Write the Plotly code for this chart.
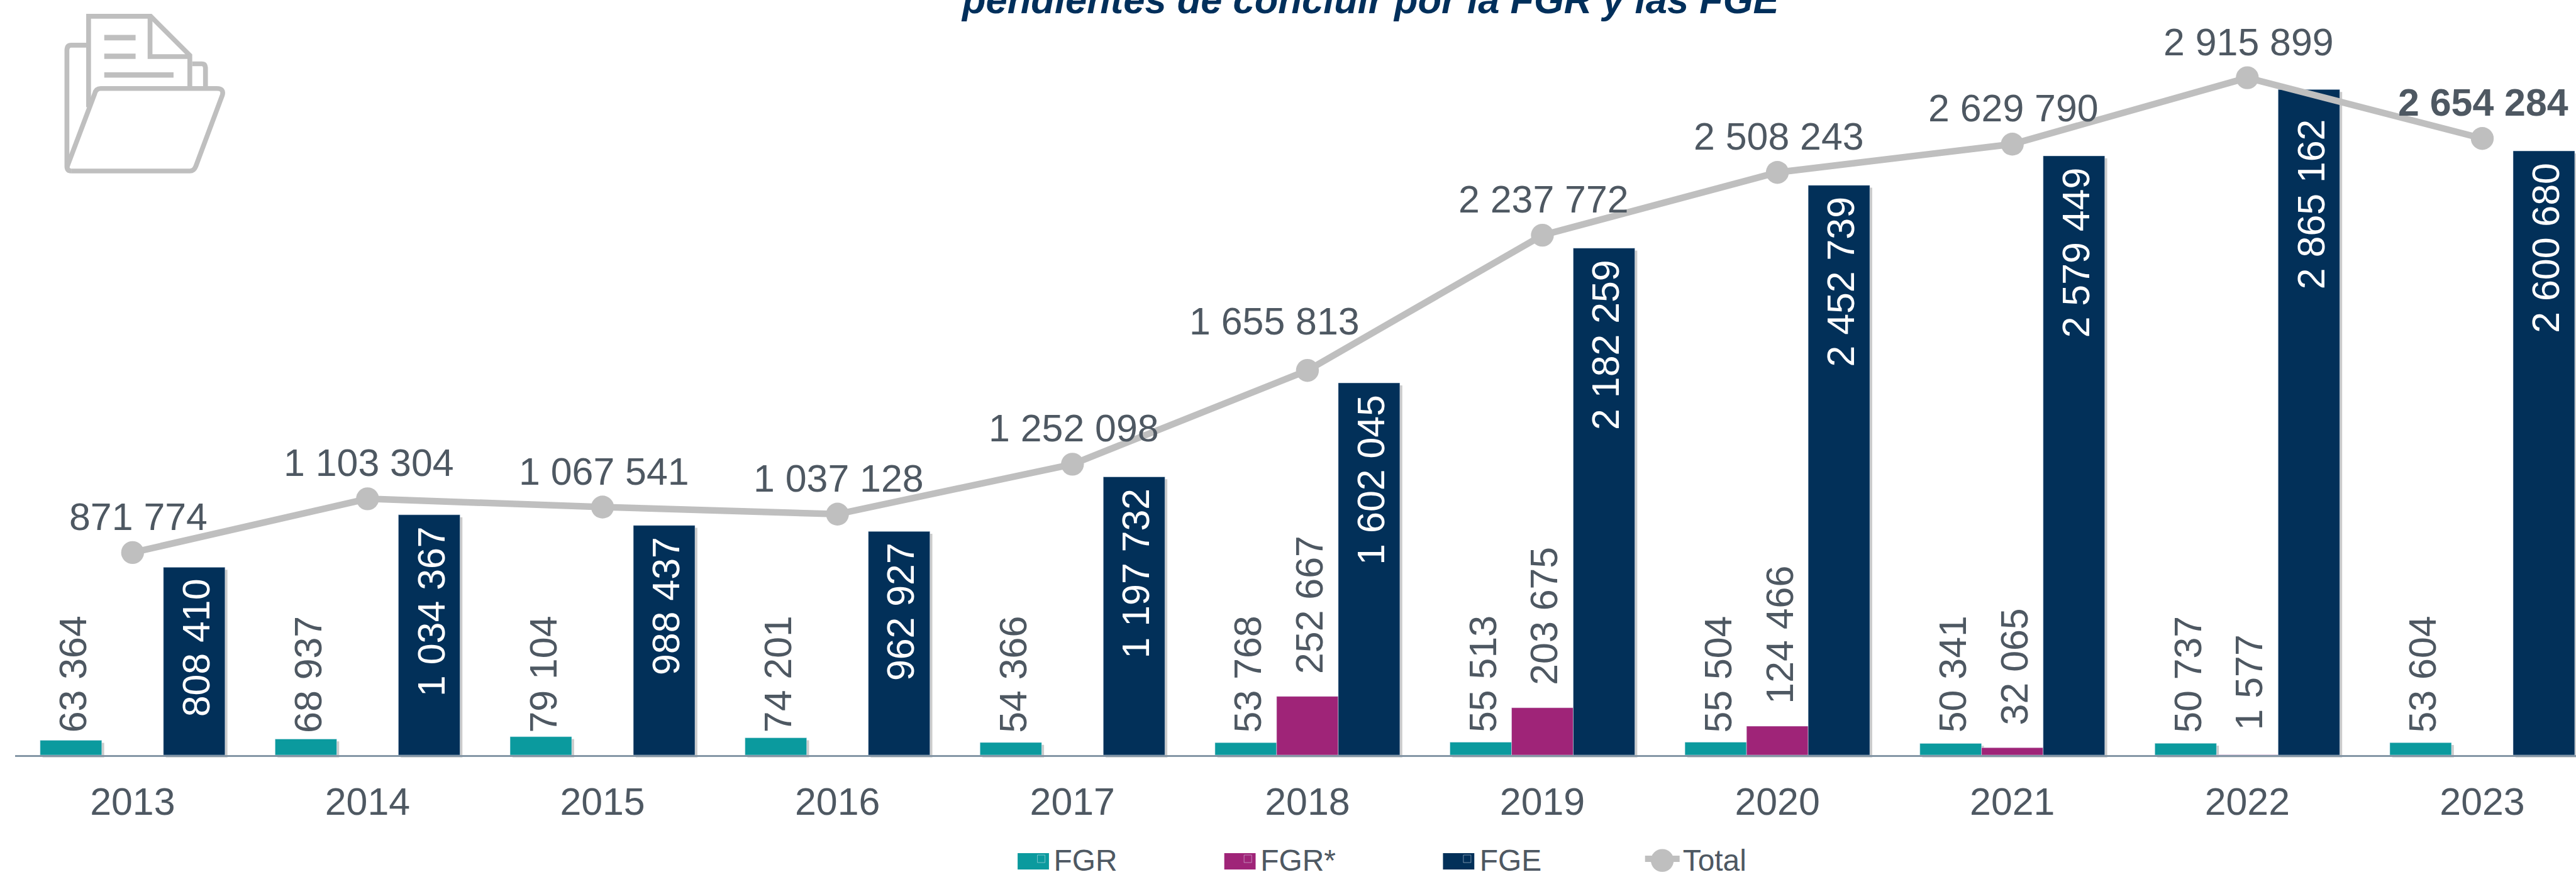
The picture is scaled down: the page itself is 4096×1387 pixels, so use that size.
import plotly.graph_objects as go

years = ["2013","2014","2015","2016","2017","2018","2019","2020","2021","2022","2023"]
fgr = [63364,68937,79104,74201,54366,53768,55513,55504,50341,50737,53604]
fgr_star = [None,None,None,None,None,252667,203675,124466,32065,1577,None]
fge = [808410,1034367,988437,962927,1197732,1602045,2182259,2452739,2579449,2865162,2600680]
total = [871774,1103304,1067541,1037128,1252098,1655813,2237772,2508243,2629790,2915899,2654284]
title_text = "pendientes de concluir por la FGR y las FGE"

S = 0.958
W, H = 4096, 1387
REF_BASE = 1254          # reference pixel row of the baseline
REF_LEFT = 25
REF_STEP = 390           # reference pixels per category
UNITS_PER_PX = 2592
L = REF_LEFT * S
PW = W - L
PH = REF_BASE * S
YMAX = REF_BASE * UNITS_PER_PX
XMAX = -0.5 + PW / (REF_STEP * S)
BAR = 102.3 / REF_STEP
GAP = 1 - 3 * BAR

TEAL, MAG, NAVY = "#0B9A9E", "#9F2478", "#023059"
GREY = "#BFBFBF"
TXT = "#4E5862"
FONT = "Liberation Sans"
FS = 63.5 * S

def fmt(v):
    return f"{v:,}".replace(",", " ")

def px(x):
    return (x * S - L) / PW

def py(y):
    return 1 - y / REF_BASE

fig = go.Figure()
fig.add_bar(x=years, y=fgr, name="FGR", marker_color=TEAL, legend="legend")
fig.add_bar(x=years, y=fgr_star, name="FGR*", marker_color=MAG, legend="legend2")
fig.add_bar(x=years, y=fge, name="FGE", marker_color=NAVY, legend="legend3")
fig.add_scatter(
    x=years, y=total, name="Total", mode="lines+markers", legend="legend4",
    line=dict(color=GREY, width=10.5), marker=dict(color=GREY, size=38 * S),
    cliponaxis=False,
)

annotations = []
shapes = []

def rot_label(x, y, text, color, anchor, shift):
    annotations.append(dict(
        x=x, y=y, xref="x", yref="y", text=text, textangle=-90, showarrow=False,
        yanchor=anchor, xanchor="center", yshift=shift, xshift=3,
        font=dict(family=FONT, size=FS, color=color), borderpad=0,
    ))

NAVY_DROP = {"2022": 48}
STAR_LIFT = {"2022": 40}
for i, yr in enumerate(years):
    rot_label(i - BAR, 0, fmt(fgr[i]), TXT, "bottom", 36 * S)
    if fgr_star[i] is not None:
        rot_label(i, fgr_star[i], fmt(fgr_star[i]), TXT, "bottom", STAR_LIFT.get(yr, 36) * S)
    rot_label(i + BAR, fge[i], fmt(fge[i]), "#FFFFFF", "top", -NAVY_DROP.get(yr, 18) * S)

# labels of the Total line, with the two the reference moves by hand
TOTAL_NUDGE = {"2013": (9, 22), "2018": (-52, 43)}
for i, yr in enumerate(years):
    dx, dy = TOTAL_NUDGE.get(yr, (2, 22))
    annotations.append(dict(
        x=i, y=total[i], xref="x", yref="y", showarrow=False, xanchor="center", yanchor="bottom",
        xshift=dx, yshift=dy, borderpad=0,
        text=f"<b>{fmt(total[i])}</b>" if yr == "2023" else fmt(total[i]),
        font=dict(family=FONT, size=FS, color=TXT),
    ))

# soft bar shadows
SH = 4 / REF_STEP
for i in range(len(years)):
    for off, vals in ((-BAR, fgr), (0, fgr_star), (BAR, fge)):
        v = vals[i]
        if v is None:
            continue
        shapes.append(dict(
            type="rect", xref="x", yref="paper", layer="below",
            x0=i + off - BAR / 2 + SH, x1=i + off + BAR / 2 + SH,
            y0=py(REF_BASE + 4), y1=v / YMAX - 4 / REF_BASE,
            fillcolor="#CBCBCB", line_width=0,
        ))

# title (runs off the top of the page, as in the reference)
annotations.append(dict(
    x=px(2275), y=py(38), xref="paper", yref="paper", text=f"<b><i>{title_text}</i></b>",
    showarrow=False, xanchor="center", yanchor="bottom",
    font=dict(family=FONT, size=61.5, color="#002F5B"),
))

# folder icon
def path(pts):
    out = []
    for cmd, *c in pts:
        nums = [f"{px(c[j])},{py(c[j+1])}" for j in range(0, len(c), 2)]
        out.append(cmd + " ".join(nums))
    return " ".join(out)

icon = [
    [("M",147,178),("L",147,27),("L",250,27),("L",315,92),("L",315,147)],
    [("M",249,29),("L",249,94),("L",315,94)],
    [("M",147,75),("L",118,75),("Q",111,75,111,84),("L",111,276),("Q",111,284,118,284)],
    [("M",319,106),("L",335,106),("Q",341,106,341,114),("L",341,147)],
    [("M",111,278),("L",157,156),("Q",159,147,167,147),("L",360,147),("Q",372,147,369,158),
     ("L",325,276),("Q",322,284,315,284),("L",118,284)],
]
for seg in icon:
    shapes.append(dict(type="path", xref="paper", yref="paper", path=path(seg),
                       line=dict(color=GREY, width=8 * S), fillcolor="rgba(0,0,0,0)"))
for x0, x1, y0, y1 in ((173,225,58,67),(173,225,89,98),(173,288,120,129)):
    shapes.append(dict(type="rect", xref="paper", yref="paper", x0=px(x0), x1=px(x1),
                       y0=py(y0), y1=py(y1), fillcolor=GREY, line_width=0))

# legend swatches sized like the reference, over the native keys
for x0, c in ((1689, TEAL), (2032, MAG), (2395, NAVY)):
    shapes.append(dict(type="rect", xref="paper", yref="paper", x0=px(x0), x1=px(x0 + 52),
                       y0=py(1444), y1=py(1417), fillcolor=c, line_width=0))
shapes.append(dict(type="circle", xref="paper", yref="paper", x0=px(2740), x1=px(2778),
                   y0=py(1448), y1=py(1410), fillcolor=GREY, line_width=0))

LEG_Y = py(1387)
def legend(x_text_ref, itemwidth=30):
    return dict(
        x=(x_text_ref * S - (itemwidth + 10) - L) / PW, y=LEG_Y, xanchor="left", yanchor="top",
        orientation="h", itemwidth=itemwidth, bgcolor="rgba(0,0,0,0)",
        font=dict(family=FONT, size=50 * S, color=TXT), itemclick=False, itemdoubleclick=False,
    )

fig.update_layout(
    width=W, height=H, autosize=False, barmode="group", bargap=GAP, bargroupgap=0,
    plot_bgcolor="white", paper_bgcolor="white",
    margin=dict(l=L, r=0, t=0, b=H - PH, pad=0, autoexpand=False),
    showlegend=True,
    legend=legend(1749), legend2=legend(2092), legend3=legend(2456), legend4=legend(2793, 55),
    annotations=annotations, shapes=shapes,
    xaxis=dict(type="category", range=[-0.5, XMAX], showgrid=False, showline=True,
               linecolor="#8496A6", linewidth=3, ticks="", ticklabelstandoff=19,
               tickfont=dict(family=FONT, size=FS, color=TXT)),
    yaxis=dict(range=[0, YMAX], visible=False, showgrid=False, zeroline=False),
)
fig.write_html("out.html", config=dict(displayModeBar=False),
               post_script="document.body.style.margin='0';")
